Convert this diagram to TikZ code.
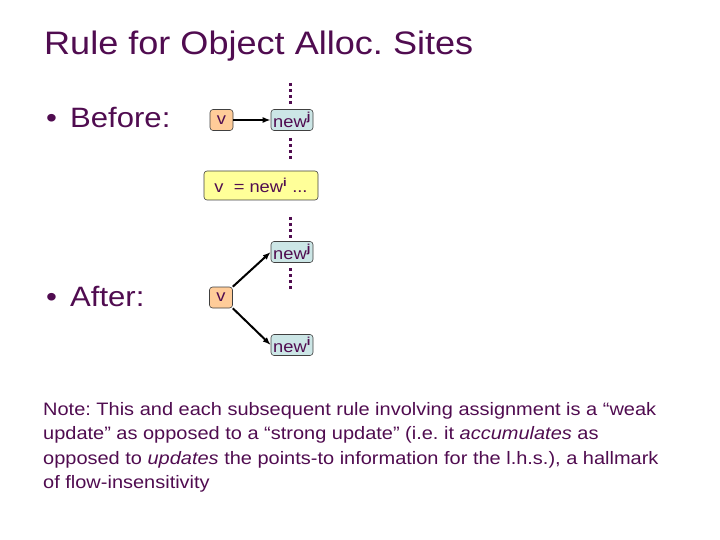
\documentclass[tikz,border=0pt]{standalone}
\usepackage{fontspec}
\setmainfont{Liberation Sans}[FakeStretch=1.11]
\usetikzlibrary{arrows.meta}
\definecolor{ink}{RGB}{80,12,80}
\definecolor{vfill}{RGB}{255,204,153}
\definecolor{nfill}{RGB}{204,230,230}
\definecolor{yfill}{RGB}{255,255,153}
\tikzset{
  box/.style={draw=black!75, line width=0.6pt, rounded corners=3pt, text=ink, font=\fontsize{16.5}{16.5}\selectfont, inner sep=0pt, minimum height=21pt},
  vbox/.style={box, fill=vfill, minimum width=23pt},
  nbox/.style={box, fill=nfill, minimum width=42pt},
  ybox/.style={box, fill=yfill, minimum width=114pt, minimum height=29pt},
  vdots/.style={draw=ink, line width=3pt, dash pattern=on 3pt off 3pt},
  arr/.style={-{Latex[length=8pt,width=6pt]}, line width=2pt, black},
  txt/.style={text=ink, anchor=base west, inner sep=0pt}
}
\newcommand{\nw}[1]{new\textsuperscript{\textbf{#1}}}
\begin{document}
\frenchspacing
\begin{tikzpicture}[x=1pt,y=-1pt]
\useasboundingbox (0,0) rectangle (720,540);
\node[txt, font=\fontsize{32.5}{32.5}\selectfont] (title) at (44,55) {Rule for Object Alloc. Sites};
\node[txt, font=\fontsize{28}{28}\selectfont] (before) at (44,128) {\makebox[26pt][l]{\hspace{2pt}\textbullet}Before:};
\node[txt, font=\fontsize{28}{28}\selectfont] (after) at (44,306) {\makebox[26pt][l]{\hspace{2pt}\textbullet}After:};
% before
\node[vbox] (v1) at (221.5,120) {v};
\node[nbox] (nj1) at (292,120) {\nw{j}};
\draw[arr] (v1) -- (nj1);
\coordinate (d1a) at (290,83);
\coordinate (d1b) at (290,104);
\draw[vdots] (d1a) -- (d1b);
\coordinate (d2a) at (290,138);
\coordinate (d2b) at (290,159);
\draw[vdots] (d2a) -- (d2b);
\node[ybox] (stmt) at (261,185.5) {v\ \ = \nw{i} ...};
% after
\coordinate (d3a) at (290,217);
\coordinate (d3b) at (290,238);
\draw[vdots] (d3a) -- (d3b);
\node[nbox] (nj2) at (292,252) {\nw{j}};
\coordinate (d4a) at (290,268);
\coordinate (d4b) at (290,289);
\draw[vdots] (d4a) -- (d4b);
\node[vbox] (v2) at (221,297.5) {v};
\node[nbox] (ni2) at (292,345) {\nw{i}};
\draw[arr] (v2.north east) -- (nj2.west);
\draw[arr] (v2.south east) -- (ni2.west);
% note
\node[txt, font=\fontsize{18}{24.5}\selectfont, anchor=north west, align=left] (note) at (43,402)
{Note: This and each subsequent rule involving assignment is a “weak\\
update” as opposed to a “strong update” (i.e. it \textit{accumulates} as\\
opposed to \textit{updates} the points-to information for the l.h.s.), a hallmark\\
of flow-insensitivity};
\end{tikzpicture}
\end{document}
